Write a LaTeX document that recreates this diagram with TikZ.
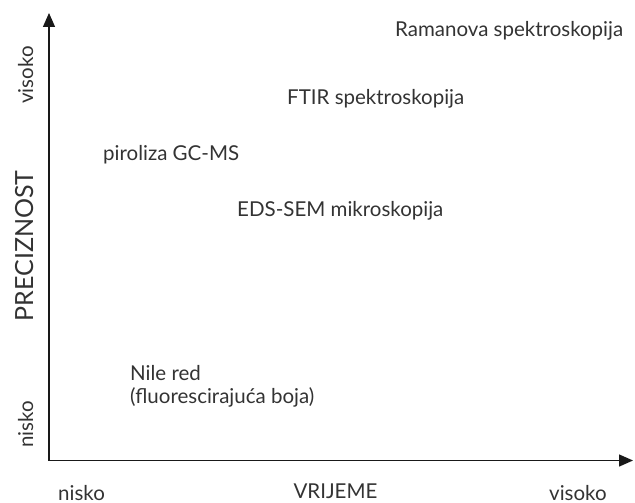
\documentclass[tikz,border=0pt]{standalone}
\usepackage{fontspec}
\setmainfont{Lato}
\usetikzlibrary{arrows.meta}
\tikzset{
  lbl/.style={anchor=base west, inner sep=0pt, text=black!80, font=\fontsize{20.5}{24}\selectfont},
  axlbl/.style={inner sep=0pt, text=black!80, font=\fontsize{20.5}{24}\selectfont},
  axis/.style={line width=1.4pt, draw=black!90, -{Triangle[length=14pt,width=12pt]}},
}
\begin{document}
\begin{tikzpicture}[x=1pt,y=-1pt]
\useasboundingbox (0,0) rectangle (635,503);
\coordinate (o) at (49,460.5);
\coordinate (ytip) at (49,13);
\coordinate (xtip) at (633,460.5);
\draw[axis] (o) -- (ytip);
\draw[axis] (o) -- (xtip);
\node[lbl] (raman) at (395,36.5) {Ramanova spektroskopija};
\node[lbl] (ftir) at (287,105) {FTIR spektroskopija};
\node[lbl] (piro) at (103,160) {piroliza GC-MS};
\node[lbl] (eds) at (237,216) {EDS-SEM mikroskopija};
\node[lbl] (nile) at (130,380) {Nile red};
\node[lbl] (fluo) at (130,403) {(fluorescirajuća boja)};
\node[axlbl, anchor=base west] (xlo) at (58,500) {nisko};
\node[axlbl, anchor=base] (xname) at (335.5,498) {VRIJEME};
\node[axlbl, anchor=base west] (xhi) at (549,500) {visoko};
\node[axlbl, anchor=base west, rotate=90] (ylo) at (33,448) {nisko};
\node[axlbl, anchor=base, rotate=90, font=\fontsize{25}{30}\selectfont] (yname) at (33,246) {PRECIZNOST};
\node[axlbl, anchor=base west, rotate=90] (yhi) at (33,104) {visoko};
\end{tikzpicture}
\end{document}
